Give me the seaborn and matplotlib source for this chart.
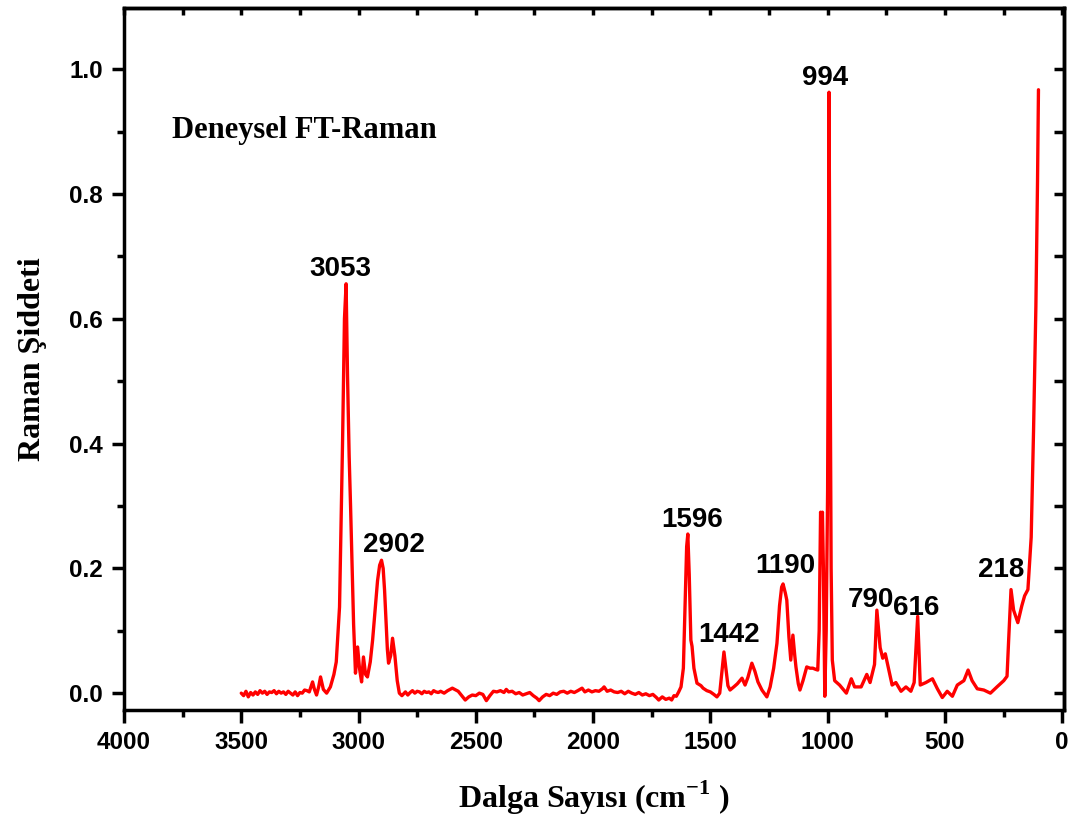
import matplotlib
matplotlib.use("Agg")
import matplotlib.pyplot as plt
from matplotlib.ticker import MultipleLocator, NullFormatter, FormatStrFormatter
import pandas as pd
import seaborn as sns

# Experimental FT-Raman spectrum (wavenumber in cm^-1, normalised intensity)
wavenumber = [
    3500, 3490, 3480, 3470, 3460, 3450, 3440, 3430, 3420, 3410, 3400, 3390, 3380,
    3370, 3360, 3350, 3340, 3330, 3320, 3310, 3300, 3290, 3280, 3270, 3260, 3250,
    3240, 3230, 3220, 3210, 3196, 3188, 3179, 3170, 3162, 3150, 3136, 3120, 3105,
    3095, 3081, 3068, 3060, 3053, 3047, 3040, 3034, 3021, 3013, 3004, 2996, 2987,
    2979, 2970, 2962, 2950, 2940, 2930, 2919, 2910, 2902, 2895, 2889, 2877, 2872,
    2863, 2855, 2845, 2835, 2826, 2815, 2800, 2790, 2780, 2770, 2760, 2750, 2740,
    2730, 2720, 2710, 2700, 2690, 2680, 2670, 2660, 2650, 2635, 2620, 2600, 2590,
    2575, 2560, 2545, 2530, 2515, 2500, 2485, 2470, 2455, 2440, 2425, 2410, 2395,
    2380, 2370, 2360, 2345, 2330, 2315, 2300, 2285, 2270, 2255, 2240, 2230, 2215,
    2200, 2185, 2170, 2155, 2140, 2125, 2110, 2095, 2080, 2065, 2047, 2035, 2020,
    2005, 1990, 1975, 1960, 1953, 1940, 1925, 1910, 1895, 1880, 1865, 1850, 1835,
    1820, 1805, 1790, 1775, 1760, 1745, 1730, 1720, 1705, 1690, 1675, 1665, 1655,
    1645, 1635, 1625, 1615, 1608, 1601, 1596, 1590, 1583, 1578, 1570, 1557, 1540,
    1531, 1515, 1500, 1485, 1472, 1460, 1452, 1442, 1434, 1425, 1416, 1400, 1385,
    1365, 1352, 1340, 1323, 1310, 1297, 1280, 1259, 1245, 1230, 1216, 1205, 1196,
    1190, 1180, 1174, 1165, 1157, 1148, 1140, 1135, 1125, 1118, 1105, 1089, 1075,
    1063, 1050, 1042, 1036, 1030, 1026, 1022, 1018, 1012, 1006, 1000, 996, 994,
    990, 985, 980, 970, 949, 920, 899, 885, 857, 833, 819, 800, 790, 776, 765, 754,
    744, 725, 709, 687, 666, 645, 631, 616, 605, 581, 553, 532, 511, 490, 468, 447,
    419, 401, 384, 362, 334, 306, 278, 249, 235, 228, 218, 207, 189, 172, 160, 146,
    132, 122, 112, 105, 101,
]
intensity = [
    0.000, -0.004, 0.003, -0.006, 0.001, -0.003, 0.002, -0.002, 0.004, 0.000, 0.003,
    -0.002, 0.002, 0.001, 0.004, -0.001, 0.003, 0.000, 0.002, -0.002, 0.003, 0.000,
    -0.003, 0.002, -0.004, 0.001, 0.000, 0.005, 0.004, 0.002, 0.018, 0.006, -0.003,
    0.010, 0.026, 0.006, 0.000, 0.010, 0.030, 0.050, 0.138, 0.405, 0.600, 0.656,
    0.510, 0.380, 0.300, 0.110, 0.032, 0.074, 0.040, 0.018, 0.058, 0.030, 0.026,
    0.050, 0.085, 0.130, 0.180, 0.205, 0.213, 0.200, 0.165, 0.070, 0.048, 0.060,
    0.088, 0.060, 0.020, 0.000, -0.004, 0.002, -0.003, 0.001, 0.004, 0.000, 0.003,
    0.002, -0.001, 0.003, 0.001, 0.002, -0.001, 0.004, 0.002, 0.001, 0.003, 0.000,
    0.004, 0.008, 0.006, 0.003, -0.004, -0.011, -0.006, -0.003, -0.004, 0.000,
    -0.002, -0.012, -0.004, 0.003, 0.002, 0.004, 0.001, 0.006, 0.002, 0.003, -0.001,
    0.001, -0.003, -0.001, 0.001, -0.004, -0.008, -0.012, -0.006, -0.002, -0.004,
    0.000, -0.002, 0.002, 0.003, 0.000, 0.003, 0.001, 0.004, 0.008, 0.002, 0.005,
    0.002, 0.004, 0.003, 0.007, 0.010, 0.003, 0.005, 0.002, 0.001, 0.003, -0.001,
    0.003, 0.000, -0.002, 0.001, -0.003, -0.001, -0.004, -0.002, -0.007, -0.011,
    -0.006, -0.010, -0.008, -0.011, -0.004, -0.005, 0.002, 0.010, 0.040, 0.140,
    0.235, 0.255, 0.190, 0.085, 0.075, 0.040, 0.016, 0.012, 0.008, 0.004, 0.002,
    -0.002, -0.006, 0.000, 0.030, 0.066, 0.040, 0.012, 0.005, 0.010, 0.015, 0.024,
    0.013, 0.025, 0.048, 0.035, 0.018, 0.005, -0.006, 0.010, 0.040, 0.080, 0.140,
    0.170, 0.175, 0.160, 0.149, 0.090, 0.053, 0.093, 0.060, 0.042, 0.015, 0.005,
    0.020, 0.042, 0.040, 0.040, 0.038, 0.037, 0.100, 0.290, 0.270, 0.290, 0.200,
    -0.005, 0.100, 0.325, 0.700, 0.963, 0.600, 0.200, 0.053, 0.020, 0.013, 0.000,
    0.023, 0.010, 0.010, 0.030, 0.017, 0.046, 0.133, 0.073, 0.056, 0.063, 0.046,
    0.013, 0.017, 0.003, 0.010, 0.003, 0.017, 0.123, 0.013, 0.017, 0.023, 0.007,
    -0.007, 0.003, -0.005, 0.013, 0.020, 0.037, 0.020, 0.007, 0.005, 0.000, 0.010,
    0.020, 0.027, 0.086, 0.166, 0.133, 0.113, 0.140, 0.156, 0.166, 0.250, 0.420,
    0.620, 0.820, 0.967,
]

# Assigned band labels
peak_labels = ["3053", "2902", "1596", "1442", "1190", "994", "790", "616", "218"]
# Label anchor points (wavenumber, intensity) for the band annotations
label_x = [3077, 2847, 1579, 1421, 1179, 1009, 817, 621, 260]
label_y = [0.680, 0.237, 0.278, 0.093, 0.203, 0.986, 0.149, 0.136, 0.198]

title_text = "Deneysel FT-Raman"
x_label = "Dalga Sayısı (cm$^{\\mathregular{-1}}$ )"
y_label = "Raman Şiddeti"

df = pd.DataFrame({"wavenumber": wavenumber, "intensity": intensity})

sns.set_theme(style="ticks")
plt.rcParams["font.family"] = ["Liberation Sans", "DejaVu Sans"]
plt.rcParams["mathtext.fontset"] = "custom"
plt.rcParams["mathtext.rm"] = "Liberation Serif:bold"
for key in ("text.color", "axes.labelcolor", "xtick.color", "ytick.color",
            "axes.edgecolor"):
    plt.rcParams[key] = "black"

fig = plt.figure(figsize=(10.81, 8.25), dpi=100)
ax = fig.add_axes([0.1147, 0.1394, 0.8696, 0.8509])

sns.lineplot(data=df, x="wavenumber", y="intensity", ax=ax, color="#ff0000",
             linewidth=2.4, estimator=None, sort=False)

ax.set_xlim(4000, -8)
ax.set_ylim(-0.027, 1.098)

ax.xaxis.set_major_locator(MultipleLocator(500))
ax.xaxis.set_minor_locator(MultipleLocator(250))
ax.yaxis.set_major_locator(MultipleLocator(0.2))
ax.yaxis.set_minor_locator(MultipleLocator(0.1))
ax.yaxis.set_major_formatter(FormatStrFormatter("%.1f"))

ax.tick_params(axis="both", which="major", direction="out", length=9, width=2.5,
               labelsize=17.5, pad=6, colors="black")
ax.tick_params(axis="both", which="minor", direction="out", length=5, width=2.5,
               colors="black")
for lab in ax.get_xticklabels() + ax.get_yticklabels():
    lab.set_fontweight("bold")

# Inward ticks on the top and right frame edges
top = ax.secondary_xaxis("top")
top.xaxis.set_major_locator(MultipleLocator(250))
top.tick_params(direction="in", length=5, width=2.5, colors="black")
top.xaxis.set_major_formatter(NullFormatter())
right = ax.secondary_yaxis("right")
right.yaxis.set_major_locator(MultipleLocator(0.1))
right.tick_params(direction="in", length=7, width=2.5, colors="black")
right.yaxis.set_major_formatter(NullFormatter())
for sec in (top, right):
    for sp in sec.spines.values():
        sp.set_linewidth(2.5)
        sp.set_color("black")

for sp in ax.spines.values():
    sp.set_linewidth(2.5)
    sp.set_color("black")
    sp.set_visible(True)

ax.set_xlabel(x_label, family="Liberation Serif", fontweight="bold", fontsize=23,
              labelpad=18, color="black")
ax.set_ylabel(y_label, family="Liberation Serif", fontweight="bold", fontsize=23,
              labelpad=16, color="black")

for txt, lx, ly in zip(peak_labels, label_x, label_y):
    ax.text(lx, ly, txt, ha="center", va="center", fontsize=20,
            fontweight="bold", color="black")

ax.text(0.051, 0.825, title_text, transform=ax.transAxes, ha="left", va="center",
        family="Liberation Serif", fontweight="bold", fontsize=22, color="black")

fig.savefig("out.png", dpi=100)
